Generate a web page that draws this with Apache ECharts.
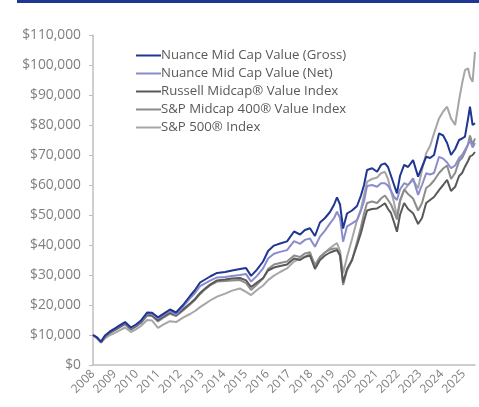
<!DOCTYPE html>
<html>
<head>
<meta charset="utf-8">
<script src="https://cdn.jsdelivr.net/npm/echarts@6/dist/echarts.min.js"></script>
<style>
  html, body { margin: 0; padding: 0; background: #fff; }
  #chart { width: 479px; height: 407px; }
</style>
</head>
<body>
<div id="chart"></div>
<script>
// positions on the time axis (year labels sit on whole numbers)
var dates = [
  2008.00, 2008.18, 2008.37, 2008.55, 2008.78, 2009.01, 2009.24, 2009.47, 2009.74, 2009.97,
  2010.20, 2010.48, 2010.71, 2010.98, 2011.26, 2011.53, 2011.81, 2012.13, 2012.45, 2012.68,
  2012.91, 2013.14, 2013.37, 2013.69, 2014.06, 2014.38, 2014.74, 2015.02, 2015.25, 2015.52,
  2015.80, 2016.03, 2016.30, 2016.58, 2016.90, 2017.22, 2017.50, 2017.72, 2017.95, 2018.18,
  2018.41, 2018.64, 2018.87, 2019.06, 2019.19, 2019.33, 2019.47, 2019.65, 2019.88, 2020.11,
  2020.29, 2020.43, 2020.57, 2020.80, 2021.03, 2021.21, 2021.39, 2021.53, 2021.67, 2021.81,
  2021.94, 2022.08, 2022.27, 2022.45, 2022.68, 2022.91, 2023.09, 2023.28, 2023.46, 2023.64,
  2023.87, 2024.06, 2024.24, 2024.42, 2024.61, 2024.79, 2024.93, 2025.06, 2025.20, 2025.29,
  2025.41, 2025.52
];

// growth of $10,000, in thousands
var gross = [
  10.0, 9.2, 7.8, 9.8, 11.2, 12.2, 13.3, 14.3, 12.5, 13.5,
  14.8, 17.5, 17.4, 15.9, 17.2, 18.5, 17.5, 20.0, 23.0, 25.0,
  27.5, 28.5, 29.5, 30.7, 31.0, 31.5, 32.0, 32.3, 29.7, 31.8,
  34.5, 38.0, 39.8, 40.5, 41.2, 44.5, 43.5, 45.0, 45.6, 43.0,
  47.5, 49.0, 51.0, 53.5, 55.9, 53.5, 45.5, 50.5, 51.5, 53.0,
  56.5, 60.0, 65.0, 65.6, 64.4, 66.7, 67.2, 66.0, 63.0, 60.0,
  57.2, 63.0, 66.7, 66.0, 68.3, 62.8, 66.0, 69.4, 69.0, 70.0,
  77.2, 76.5, 74.0, 70.0, 72.0, 75.0, 75.5, 76.1, 82.0, 86.1,
  80.0, 80.6
];
var net = [
  10.0, 9.2, 7.7, 9.7, 11.1, 12.1, 13.1, 14.1, 12.3, 13.3,
  14.5, 17.2, 17.0, 15.5, 16.8, 18.0, 16.9, 19.4, 22.2, 24.0,
  26.3, 27.2, 28.1, 29.2, 29.3, 29.7, 30.0, 30.3, 27.8, 29.7,
  32.2, 35.5, 37.1, 37.7, 38.3, 41.3, 40.4, 41.7, 42.2, 39.4,
  42.8, 44.8, 47.2, 49.0, 51.1, 49.0, 41.1, 46.2, 47.2, 48.3,
  51.5, 54.5, 59.7, 60.0, 59.4, 60.6, 60.6, 59.8, 58.0, 56.0,
  55.0, 58.5, 60.6, 60.0, 62.2, 56.7, 60.0, 63.9, 63.5, 64.0,
  69.4, 68.8, 67.5, 65.6, 66.5, 69.0, 70.0, 71.7, 73.5, 75.0,
  72.5, 74.0
];
var russell = [
  10.0, 9.0, 7.6, 9.5, 10.9, 11.8, 12.8, 13.8, 12.0, 13.0,
  14.3, 16.8, 16.6, 14.9, 16.3, 17.5, 16.6, 18.5, 20.5, 22.0,
  24.0, 25.5, 26.8, 28.2, 28.5, 28.8, 29.0, 28.2, 26.0, 27.5,
  29.0, 31.5, 32.5, 33.0, 33.5, 35.5, 35.0, 36.0, 36.5, 32.0,
  35.0, 36.5, 37.5, 38.0, 38.3, 36.5, 27.5, 32.0, 35.0, 40.0,
  44.0, 48.0, 51.5, 52.0, 52.2, 53.0, 53.9, 52.0, 50.6, 47.5,
  44.4, 50.0, 54.0, 52.0, 50.6, 47.0, 49.0, 54.0, 55.0, 56.0,
  58.3, 60.0, 61.7, 58.0, 59.4, 63.0, 64.0, 66.1, 68.0, 69.5,
  70.0, 71.0
];
var sp400 = [
  10.0, 9.1, 7.5, 9.4, 10.7, 11.6, 12.6, 13.6, 11.8, 12.8,
  14.0, 16.5, 16.3, 14.5, 15.9, 17.1, 16.3, 18.2, 20.2, 21.7,
  23.6, 25.2, 26.5, 27.8, 28.0, 28.2, 28.3, 27.3, 25.0, 26.8,
  28.8, 32.0, 33.5, 34.0, 34.5, 36.5, 36.0, 37.2, 37.6, 33.0,
  36.0, 37.5, 38.5, 38.8, 38.8, 36.8, 26.7, 31.5, 35.0, 41.0,
  46.0, 50.5, 54.0, 54.5, 54.0, 55.5, 56.5, 55.0, 53.5, 51.0,
  48.5, 54.5, 58.5, 57.0, 55.5, 51.5, 54.0, 59.0, 60.0, 61.5,
  64.0, 65.5, 66.5, 62.0, 64.0, 68.0, 69.0, 71.0, 73.5, 76.5,
  73.5, 75.5
];
var sp500 = [
  10.0, 9.0, 7.5, 8.9, 10.0, 10.7, 11.6, 12.5, 11.0, 11.9,
  13.0, 15.0, 14.8, 12.4, 13.6, 14.6, 14.3, 15.8, 17.0, 18.0,
  19.3, 20.4, 21.5, 22.8, 23.8, 24.8, 25.5, 24.4, 23.3, 25.0,
  26.5, 28.3, 29.8, 31.0, 32.2, 34.5, 35.5, 36.2, 37.0, 33.5,
  36.0, 37.5, 39.0, 40.0, 40.6, 38.0, 30.6, 36.0, 42.0, 48.3,
  52.0, 56.7, 61.1, 62.0, 62.5, 63.9, 64.4, 62.0, 58.0, 54.0,
  49.4, 55.0, 58.3, 60.0, 61.7, 58.9, 65.0, 70.6, 73.0, 77.2,
  82.2, 84.5, 86.1, 82.2, 80.0, 88.3, 93.9, 98.3, 98.9, 96.0,
  94.4, 104.4
];

var seriesNames = [
  'Nuance Mid Cap Value (Gross)',
  'Nuance Mid Cap Value (Net)',
  'Russell Midcap\u00ae Value Index',
  'S&P Midcap 400\u00ae Value Index',
  'S&P 500\u00ae Index'
];
var seriesData = [gross, net, russell, sp400, sp500];
var colors = ['#1f3693', '#8a8ccc', '#595959', '#8c8c8c', '#a6a6a6'];

function pairs(values) {
  return values.map(function (v, i) { return [dates[i], v * 1000]; });
}

var chart = echarts.init(document.getElementById('chart'));
chart.setOption({
  animation: false,
  color: colors,
  textStyle: { fontFamily: 'Open Sans' },
  graphic: [{
    type: 'rect',
    shape: { x: 17, y: 0, width: 462, height: 3 },
    style: { fill: '#1f3693' }
  }],
  grid: { left: 93, right: 4, top: 35, bottom: 42 },
  legend: {
    orient: 'vertical',
    left: 131,
    top: 44,
    itemWidth: 25,
    itemHeight: 2,
    itemGap: 5,
    icon: 'rect',
    textStyle: { color: '#595959', fontSize: 13.2, padding: [0, 0, 0, -5] },
    data: seriesNames
  },
  xAxis: {
    type: 'value',
    min: 2008,
    max: 2025.52,
    interval: 1,
    splitLine: { show: false },
    axisTick: { show: false },
    axisLine: { lineStyle: { color: '#bfbfbf', width: 1.5 } },
    axisLabel: {
      rotate: 45,
      margin: 7,
      color: '#7f7f7f',
      fontSize: 12,
      showMaxLabel: false,
      formatter: function (v) { return String(Math.round(v)); }
    }
  },
  yAxis: {
    type: 'value',
    min: 0,
    max: 110000,
    interval: 10000,
    splitLine: { show: false },
    axisLine: { show: true, lineStyle: { color: '#bfbfbf', width: 1.5 } },
    axisTick: { show: true, length: 4, lineStyle: { color: '#bfbfbf' } },
    axisLabel: {
      margin: 12,
      color: '#7f7f7f',
      fontSize: 13.8,
      formatter: function (v) { return '$' + v.toLocaleString('en-US'); }
    }
  },
  series: seriesNames.map(function (name, i) {
    return {
      name: name,
      type: 'line',
      data: pairs(seriesData[i]),
      showSymbol: false,
      lineStyle: { width: 2, color: colors[i] },
      z: 10 - i
    };
  })
});
</script>
</body>
</html>
